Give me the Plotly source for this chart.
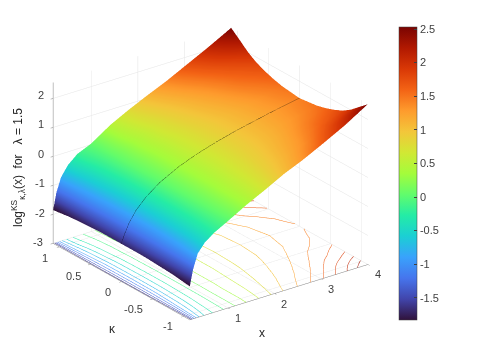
import plotly.graph_objects as go

x_vals = [0.18, 0.25, 0.35, 0.5, 0.7, 1.0, 1.4, 1.8, 2.2, 2.6, 3.0, 3.5, 4.0]
kappa_vals = [-1.1, -0.96, -0.83, -0.7, -0.55, -0.42, -0.28, 0.0, 0.28, 0.42, 0.55, 0.7, 0.83, 0.96, 1.1]

# one row per kappa value, one column per x value
z_m110 = [-1.85, -1.30, -0.80, -0.50, -0.26, 0.00, 0.36, 0.68, 1.02, 1.30, 1.62, 2.04, 2.53]
z_m096 = [-1.81, -1.33, -0.87, -0.56, -0.29, 0.00, 0.35, 0.65, 0.95, 1.20, 1.47, 1.88, 2.27]
z_m083 = [-1.77, -1.35, -0.93, -0.60, -0.31, 0.00, 0.35, 0.63, 0.90, 1.12, 1.35, 1.72, 2.02]
z_m070 = [-1.75, -1.36, -0.97, -0.63, -0.33, 0.00, 0.35, 0.62, 0.86, 1.07, 1.27, 1.58, 1.83]
z_m055 = [-1.73, -1.37, -1.00, -0.65, -0.34, 0.00, 0.34, 0.61, 0.83, 1.02, 1.20, 1.47, 1.68]
z_m042 = [-1.71, -1.38, -1.03, -0.67, -0.35, 0.00, 0.34, 0.60, 0.81, 0.99, 1.15, 1.38, 1.58]
z_m028 = [-1.70, -1.39, -1.04, -0.68, -0.36, 0.00, 0.34, 0.59, 0.80, 0.97, 1.12, 1.31, 1.50]
z_000 = [-1.70, -1.39, -1.05, -0.69, -0.36, 0.00, 0.34, 0.59, 0.79, 0.96, 1.10, 1.27, 1.42]
z_p028 = [-1.70, -1.39, -1.04, -0.68, -0.35, 0.01, 0.34, 0.60, 0.80, 0.97, 1.12, 1.31, 1.50]
z_p042 = [-1.71, -1.38, -1.03, -0.67, -0.34, 0.01, 0.35, 0.61, 0.82, 1.00, 1.16, 1.38, 1.58]
z_p055 = [-1.73, -1.37, -1.00, -0.64, -0.32, 0.02, 0.37, 0.64, 0.85, 1.04, 1.21, 1.47, 1.68]
z_p070 = [-1.75, -1.35, -0.97, -0.61, -0.30, 0.02, 0.38, 0.66, 0.89, 1.09, 1.29, 1.58, 1.83]
z_p083 = [-1.77, -1.34, -0.93, -0.57, -0.27, 0.03, 0.42, 0.71, 0.94, 1.16, 1.39, 1.72, 2.02]
z_p096 = [-1.81, -1.31, -0.87, -0.51, -0.22, 0.03, 0.45, 0.76, 1.01, 1.26, 1.53, 1.92, 2.27]
z_p110 = [-1.85, -1.28, -0.80, -0.45, -0.17, 0.04, 0.47, 0.80, 1.10, 1.38, 1.70, 2.10, 2.53]
z_rows = [z_m110, z_m096, z_m083, z_m070, z_m055, z_m042, z_m028, z_000,
          z_p028, z_p042, z_p055, z_p070, z_p083, z_p096, z_p110]

x_ticks = [1, 2, 3, 4]
x_labels = ["1", "2", "3", "4"]
kappa_ticks = [-1, -0.5, 0, 0.5, 1]
kappa_labels = ["-1", "-0.5", "0", "0.5", "1"]
z_ticks = [-3, -2, -1, 0, 1, 2]
z_labels = ["-3", "-2", "-1", "0", "1", "2"]
cbar_ticks = [-1.5, -1, -0.5, 0, 0.5, 1, 1.5, 2, 2.5]
cbar_labels = ["-1.5", "-1", "-0.5", "0", "0.5", "1", "1.5", "2", "2.5"]

FONT = "Liberation Sans"
TXT = "#404040"

fig = go.Figure()
fig.add_trace(go.Surface(
    x=x_vals, y=kappa_vals, z=z_rows, colorscale="Turbo", cmin=-1.83, cmax=2.53,
    lighting=dict(ambient=1, diffuse=0, specular=0, roughness=1, fresnel=0),
    contours=dict(z=dict(show=True, start=-1.612, end=2.45, size=0.218, usecolormap=True,
                         width=1, project=dict(z=True))),
    colorbar=dict(x=391/478, xanchor="left", xpad=0, y=(359-165.5)/359, yanchor="middle", ypad=0,
                  len=293/359, lenmode="fraction", thickness=18, outlinewidth=0.5, outlinecolor=TXT,
                  tickvals=cbar_ticks, ticktext=cbar_labels, ticks="inside", ticklen=3, tickcolor=TXT,
                  tickfont=dict(family=FONT, size=11, color=TXT)),
))
fig.add_trace(go.Scatter3d(x=x_vals, y=[0]*len(x_vals), z=z_000, mode="lines",
                           line=dict(color="black", width=1), showlegend=False))

def ax(rng, vals):
    return dict(range=rng, tickvals=vals, showgrid=True, gridcolor="#e4e4e4", gridwidth=1,
                showline=True, linecolor="#7f7f7f", linewidth=1, ticks="outside", ticklen=3,
                tickcolor="#7f7f7f", zeroline=False, showbackground=False, title=dict(text=""),
                showticklabels=False, showspikes=False)

OFF = 8  # the page puts the figure 8 px in from its top left corner

def label(text, px, py, size=11, color=TXT, **kw):
    return dict(text=text, x=(px-OFF)/478, y=(359-py+OFF)/359, xref="paper", yref="paper", showarrow=False,
                xanchor="center", yanchor="middle", font=dict(family=FONT, size=size, color=color), **kw)

anns = [label("log<sup>KS</sup><sub>κ,λ</sub>(x)  for   λ = 1.5", 18, 168, size=12, color="#262626", textangle=-90),
        label("x", 262, 333, size=12, color="#262626"),
        label("κ", 112, 329, size=12, color="#262626")]
anns += [label(t, p, q) for t, p, q in zip(x_labels, [238, 284, 331, 378], [318, 304, 289, 274])]
anns += [label(t, p, q) for t, p, q in zip(kappa_labels, [168, 133, 108, 73, 45], [326, 309, 292, 276, 258])]
anns += [label(t, p, q) for t, p, q in zip(z_labels, [38, 40, 40, 41, 41, 41], [242, 213, 183, 154, 124, 95])]

D = 1.7
S = 1.342
fig.update_layout(
    width=478, height=359, margin=dict(l=0, r=0, t=0, b=0), paper_bgcolor="white",
    showlegend=False,
    scene=dict(
        domain=dict(x=[0, 0.847], y=[0.078, 1]),
        xaxis=ax([0.18, 4], x_ticks),
        yaxis=ax([-1.1, 1.1], kappa_ticks),
        zaxis=ax([-3, 2.55], z_ticks),
        aspectmode="manual", aspectratio=dict(x=1*S, y=1.03*S, z=0.797*S),
        camera=dict(projection=dict(type="orthographic"),
                    eye=dict(x=-0.598*D*0.909, y=-0.802*D*0.909, z=0.417*D),
                    up=dict(x=0, y=0, z=1)),
    ),
    annotations=anns,
)
fig.write_html("out.html", config=dict(displayModeBar=False))
